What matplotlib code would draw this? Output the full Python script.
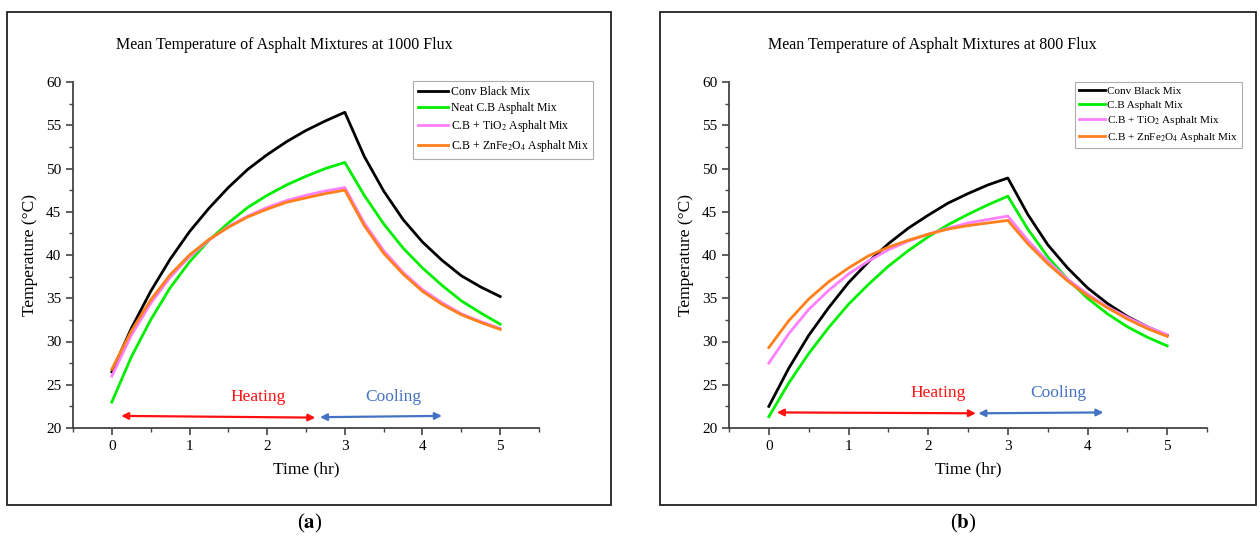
import matplotlib.pyplot as plt
from matplotlib.patches import Rectangle
from matplotlib.ticker import MultipleLocator

plt.rcParams['font.family'] = 'Liberation Serif'
plt.rcParams['mathtext.fontset'] = 'stix'

# time axis, 0.25 hr steps
t = [0, 0.25, 0.5, 0.75, 1, 1.25, 1.5, 1.75, 2, 2.25, 2.5, 2.75, 3,
     3.25, 3.5, 3.75, 4, 4.25, 4.5, 4.75, 5]

# (a) 1000 flux
conv_1000 = [26.5, 31.5, 35.8, 39.5, 42.7, 45.4, 47.8, 49.9, 51.6, 53.1, 54.4, 55.5, 56.5,
             51.4, 47.4, 44.1, 41.5, 39.4, 37.6, 36.3, 35.2]
neat_1000 = [23.0, 28.2, 32.5, 36.2, 39.2, 41.7, 43.7, 45.5, 46.9, 48.1, 49.1, 50.0, 50.7,
             46.9, 43.6, 40.8, 38.5, 36.5, 34.7, 33.3, 32.0]
tio2_1000 = [26.0, 30.7, 34.4, 37.4, 39.8, 41.7, 43.3, 44.5, 45.5, 46.3, 46.9, 47.4, 47.8,
             43.7, 40.5, 38.0, 36.0, 34.5, 33.2, 32.3, 31.5]
znfe_1000 = [26.8, 31.2, 34.8, 37.7, 40.0, 41.8, 43.2, 44.4, 45.3, 46.1, 46.6, 47.1, 47.5,
             43.4, 40.2, 37.8, 35.8, 34.3, 33.1, 32.2, 31.4]

# (b) 800 flux
conv_800 = [22.5, 26.9, 30.7, 33.9, 36.8, 39.2, 41.3, 43.1, 44.6, 46.0, 47.1, 48.1, 48.9,
            44.7, 41.2, 38.5, 36.2, 34.4, 32.9, 31.7, 30.7]
cb_800 = [21.3, 25.2, 28.6, 31.6, 34.3, 36.6, 38.7, 40.5, 42.1, 43.5, 44.7, 45.8, 46.8,
          43.0, 39.8, 37.2, 35.0, 33.2, 31.7, 30.5, 29.5]
tio2_800 = [27.5, 30.9, 33.7, 35.9, 37.8, 39.3, 40.6, 41.6, 42.4, 43.1, 43.7, 44.1, 44.5,
            41.7, 39.3, 37.2, 35.5, 34.0, 32.8, 31.7, 30.8]
znfe_800 = [29.3, 32.4, 34.9, 36.9, 38.5, 39.9, 40.9, 41.7, 42.4, 43.0, 43.4, 43.7, 44.0,
            41.3, 39.0, 37.0, 35.3, 33.9, 32.6, 31.5, 30.6]

labels_a = ['Conv Black Mix', 'Neat C.B Asphalt Mix',
            r'C.B + TiO$_2$ Asphalt Mix', r'C.B + ZnFe$_2$O$_4$ Asphalt Mix']
labels_b = ['Conv Black Mix', 'C.B Asphalt Mix',
            r'C.B + TiO$_2$ Asphalt Mix', r'C.B + ZnFe$_2$O$_4$ Asphalt Mix']
colors = ['black', '#00ee00', '#ff80ff', '#ff7f1a']

W, H = 1260, 541
fig = plt.figure(figsize=(12.6, 5.41), dpi=100)

panels = [
    dict(rect=(73, 82, 539, 428), frame=(7, 12, 611, 505),
         series=[conv_1000, neat_1000, tio2_1000, znfe_1000], labels=labels_a,
         title='Mean Temperature of Asphalt Mixtures at 1000 Flux', title_x=284,
         leg=(413, 81), leg_fs=8.5, leg_hl=2.6, tag='a', tag_x=310,
         heat=(0.12, 2.62, 21.4, 21.2), cool=(2.68, 4.25, 21.25, 21.4),
         heat_txt=(1.88, 23.6), cool_txt=(3.63, 23.6)),
    dict(rect=(729, 82, 1207, 428), frame=(660, 12, 1256, 505),
         series=[conv_800, cb_800, tio2_800, znfe_800], labels=labels_b,
         title='Mean Temperature of Asphalt Mixtures at 800 Flux', title_x=932,
         leg=(1075, 82), leg_fs=8.0, leg_hl=2.3, tag='b', tag_x=963,
         heat=(0.1, 2.6, 21.8, 21.7), cool=(2.63, 4.2, 21.7, 21.8),
         heat_txt=(2.13, 24.0), cool_txt=(3.63, 24.0)),
]

for p in panels:
    x0, y0, x1, y1 = p['frame']
    fig.patches.append(Rectangle((x0 / W, 1 - y1 / H), (x1 - x0) / W, (y1 - y0) / H,
                                 transform=fig.transFigure, fill=False,
                                 edgecolor='#222222', linewidth=1.3))
    l, tp, r, b = p['rect']
    ax = fig.add_axes([l / W, 1 - b / H, (r - l) / W, (b - tp) / H])
    for ys, lab, c in zip(p['series'], p['labels'], colors):
        ax.plot(t, ys, color=c, lw=2, label=lab, solid_joinstyle='round')
    ax.set_xlim(-0.5, 5.5)
    ax.set_ylim(20, 60)
    ax.xaxis.set_major_locator(MultipleLocator(1))
    ax.xaxis.set_minor_locator(MultipleLocator(0.5))
    ax.yaxis.set_major_locator(MultipleLocator(5))
    ax.yaxis.set_minor_locator(MultipleLocator(2.5))
    for s in ['top', 'right']:
        ax.spines[s].set_visible(False)
    for s in ['left', 'bottom']:
        ax.spines[s].set_color('#444444')
        ax.spines[s].set_linewidth(1.3)
    ax.tick_params(which='major', length=5, width=1.2, color='#444444', labelsize=11)
    ax.tick_params(which='minor', length=3, width=1.0, color='#444444')
    ax.set_xlabel('Time (hr)', fontsize=12.5, labelpad=6)
    ax.set_ylabel('Temperature (°C)', fontsize=12.5, labelpad=6)

    fig.text(p['title_x'] / W, 1 - 45 / H, p['title'], ha='center', va='center', fontsize=11.5)
    fig.text(p['tag_x'] / W, 1 - 523 / H, '(' + r'$\mathbf{' + p['tag'] + '}$' + ')',
             ha='center', va='center', fontsize=15)

    hx0, hx1, hy0, hy1 = p['heat']
    ax.annotate('', xy=(hx1, hy1), xytext=(hx0, hy0),
                arrowprops=dict(arrowstyle='<|-|>', color='#ff1010', lw=1.6,
                                mutation_scale=10, shrinkA=0, shrinkB=0))
    cx0, cx1, cy0, cy1 = p['cool']
    ax.annotate('', xy=(cx1, cy1), xytext=(cx0, cy0),
                arrowprops=dict(arrowstyle='<|-|>', color='#4472c4', lw=1.6,
                                mutation_scale=10, shrinkA=0, shrinkB=0))
    ax.text(*p['heat_txt'], 'Heating', color='#ff1010', fontsize=12.5, ha='center', va='center')
    ax.text(*p['cool_txt'], 'Cooling', color='#4472c4', fontsize=12.5, ha='center', va='center')

    lx, ly = p['leg']
    leg = ax.legend(loc='upper left', bbox_to_anchor=(lx / W, 1 - ly / H),
                    bbox_transform=fig.transFigure, borderaxespad=0, fontsize=p['leg_fs'],
                    fancybox=False, edgecolor='#999999', handlelength=p['leg_hl'],
                    handletextpad=0.2, labelspacing=0.35, borderpad=0.4)
    leg.get_frame().set_linewidth(0.8)

fig.savefig('out.png', dpi=100)
